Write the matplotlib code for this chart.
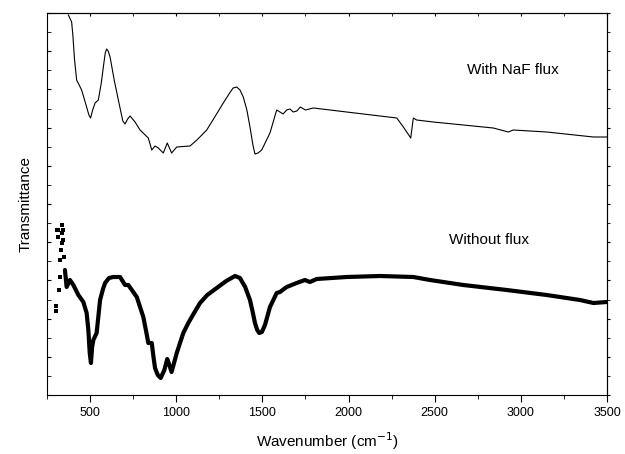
import matplotlib
matplotlib.use("Agg")
import matplotlib.pyplot as plt
from matplotlib.ticker import MultipleLocator

plt.rcParams['font.family'] = ['Liberation Sans', 'DejaVu Sans']

# upper spectrum: with NaF flux (arbitrary transmittance units)
naf_wn = [374, 393, 400, 410, 422, 451, 480, 493, 503, 515, 529, 548, 565, 577,
          588, 596, 605, 616, 640, 664, 690, 703, 718, 732, 761, 790, 838, 858,
          877, 896, 925, 948, 973, 1003, 1080, 1120, 1177, 1220, 1273, 1310, 1330,
          1351, 1370, 1389, 1410, 1428, 1445, 1457, 1475, 1496, 1544, 1583, 1602,
          1620, 1641, 1660, 1679, 1700, 1720, 1750, 1796, 1989, 2280, 2318, 2361,
          2376, 2395, 2492, 2840, 2927, 2956, 3150, 3421, 3498]
naf_t = [380, 373, 360, 335, 315, 305, 288, 280, 277, 285, 292, 295, 312, 328,
         342, 346, 344, 338, 315, 295, 274, 271, 276, 279, 273, 265, 257, 245,
         249, 247, 242, 252, 242, 248, 249, 255, 265, 277, 292, 302, 307,
         308, 305, 298, 285, 268, 250, 241, 242, 245, 262, 285, 283,
         281, 285, 286, 283, 284, 288, 285, 287, 283, 277, 268, 257,
         277, 275, 273, 267, 263, 265, 263, 258, 258]

# lower spectrum: without flux
raw_wn = [354, 364, 383, 403, 432, 461, 480, 490, 498, 505, 512, 519, 538, 558,
          575, 587, 610, 635, 674, 703, 722, 771, 809, 825, 838, 858, 868, 877,
          893, 910, 931, 948, 960, 973, 1003, 1041, 1070, 1100, 1138, 1180, 1235,
          1290, 1341, 1370, 1400, 1428, 1445, 1457, 1470, 1482, 1497, 1515, 1544,
          1583, 1602, 1641, 1699, 1747, 1776, 1815, 1989, 2183, 2376, 2473, 2666,
          2918, 3150, 3343, 3421, 3498]
raw_t = [125, 108, 115, 110, 100, 93, 82, 65, 42, 32, 48, 55, 62, 95,
         106, 112, 117, 118, 118, 110, 110, 98, 78, 64, 52, 52, 38, 27,
         20, 17, 25, 36, 30, 23, 42, 62, 72, 81, 92, 100, 107,
         114, 119, 117, 108, 95, 82, 72, 65, 62, 63, 70, 88,
         102, 103, 108, 112, 115, 113, 116, 118, 119, 118, 115, 110,
         105, 100, 95, 92, 93]

# noisy points at the low-wavenumber end of the lower spectrum
noise_wn = [302, 302, 306, 316, 316, 320, 325, 325, 329, 335, 335, 339, 345, 345, 349]
noise_t = [89, 84, 165, 165, 158, 105, 118, 135, 145, 152, 162, 170, 165, 155, 138]

fig = plt.figure(figsize=(6.25, 4.54), dpi=100)
ax = fig.add_axes([47/625, 1 - 395/454, 560/625, 382/454])

ax.plot(naf_wn, naf_t, color="black", lw=0.8)
ax.plot(raw_wn, raw_t, color="black", lw=3.0,
        solid_capstyle="round", solid_joinstyle="round")
ax.scatter(noise_wn, noise_t, s=5, marker="s", color="black", lw=0)

ax.text(2954, 325, "With NaF flux", ha="center", va="center", fontsize=11)
ax.text(2815, 155, "Without flux", ha="center", va="center", fontsize=11)

ax.set_xlim(250, 3500)
ax.set_ylim(0, 382)
ax.xaxis.set_major_locator(MultipleLocator(500))
ax.xaxis.set_minor_locator(MultipleLocator(250))
ax.yaxis.set_major_locator(MultipleLocator(38.2))
ax.yaxis.set_minor_locator(MultipleLocator(19.1))
ax.tick_params(axis="x", which="major", direction="out", length=5, labelsize=9)
ax.tick_params(axis="x", which="minor", direction="out", length=3)
ax.tick_params(axis="y", which="both", direction="in", length=3, labelleft=False)

# top: short inward ticks, right: short outward ticks
top = ax.secondary_xaxis("top")
top.xaxis.set_major_locator(MultipleLocator(500))
top.xaxis.set_minor_locator(MultipleLocator(250))
top.tick_params(which="both", direction="in", length=2, labeltop=False)
right = ax.secondary_yaxis("right")
right.yaxis.set_major_locator(MultipleLocator(38.2))
right.yaxis.set_minor_locator(MultipleLocator(19.1))
right.tick_params(which="both", direction="out", length=2, labelright=False)

ax.set_xlabel("Wavenumber (cm$^{-1}$)", fontsize=11, labelpad=8)
ax.set_ylabel("Transmittance", fontsize=11, labelpad=10)

fig.savefig("out.png", dpi=100)
plt.close()
